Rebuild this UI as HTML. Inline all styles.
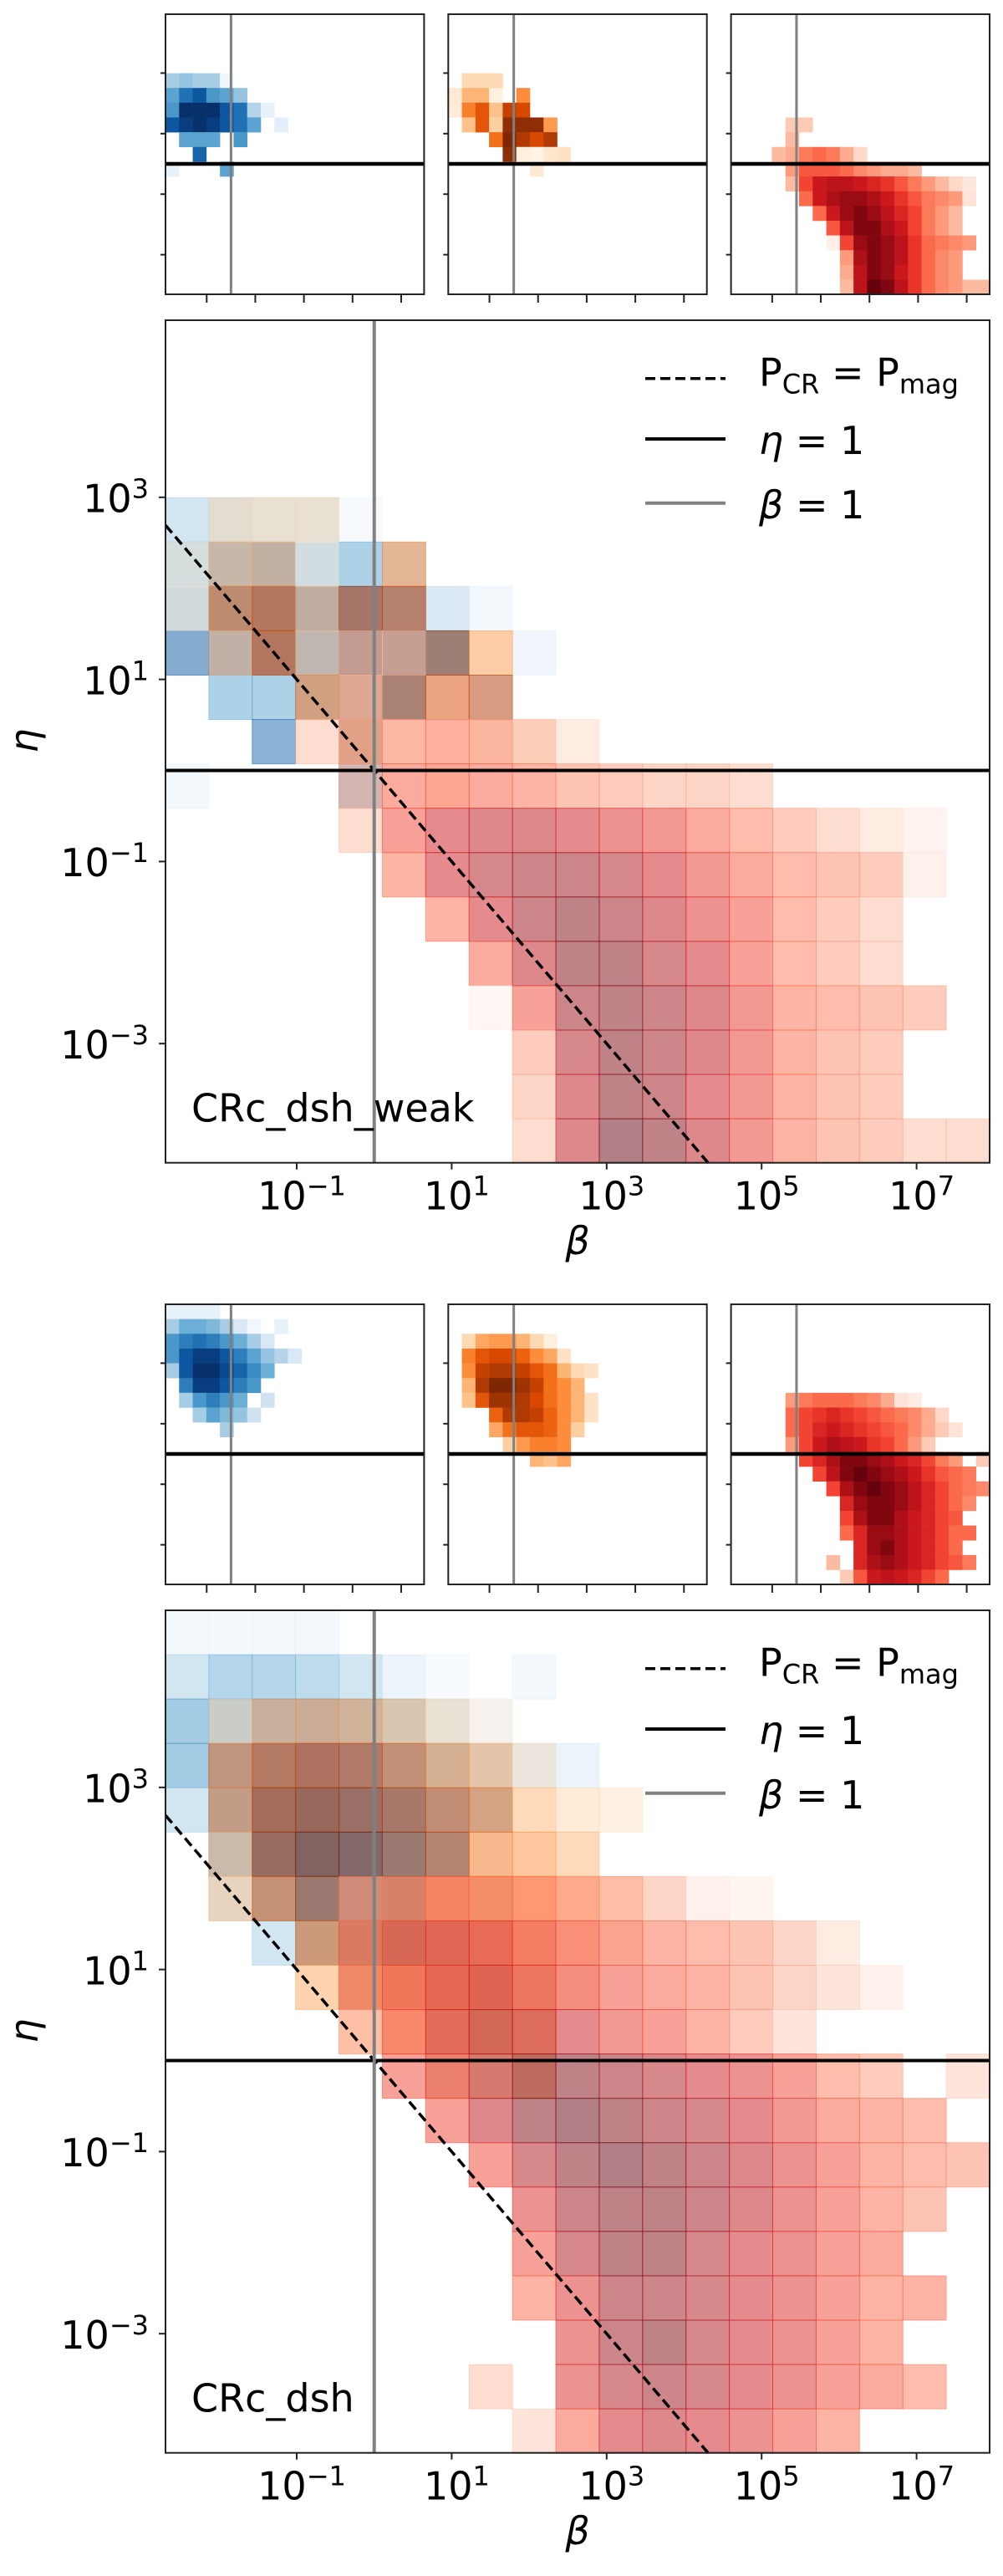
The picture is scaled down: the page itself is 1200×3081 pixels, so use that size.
<!DOCTYPE html>
<html><head><meta charset="utf-8">
<style>
html,body{margin:0;padding:0;background:#fff;}
svg{display:block;font-family:"DejaVu Sans","Liberation Sans",sans-serif;}
</style></head>
<body>
<svg id="fig" xmlns="http://www.w3.org/2000/svg" width="1200" height="3081" viewBox="0 0 1200 3081"></svg>
<script>
// ---- data: rows are [rowFromTop, startCol, values...] (normalised log counts) ----
const xTickExps = [-1, 1, 3, 5, 7];
const yTickExps = [3, 1, -1, -3];
const nBins = 19;
const xLogMin = -2.694, xLogMax = 7.943;
const yLogMax = 4.945, yLogMin = -4.313;
const panelLabels = ["CRc_dsh_weak", "CRc_dsh"];

const weakBlue = [
 [4,0,0.35,0.4,0.35,0.35,0.04],
 [5,0,0.55,0.75,0.85,0.6,0.55,0.4],
 [6,0,0.6,1.0,1.0,1.0,0.85,0.75,0.3,0.08],
 [7,0,0.85,0.95,1.0,0.95,0.85,0.75,0.55,0,0.1],
 [8,1,0.55,0.55,0.55,0,0.6],
 [9,2,0.8],
 [10,0,0.08,0,0,0,0.55]
];
const weakOrange = [
 [4,1,0.2,0.2,0.2],
 [5,0,0.1,0.35,0.35,0.05,0,0.5],
 [6,0,0.08,0.55,0.7,0.3,0.8,0.75],
 [7,1,0.3,0.7,0.25,0.95,0.95,0.95,0.45],
 [8,3,0.6,1.0,0.85,0.75,0.85],
 [9,4,0.95,0.05,0.02,0.12,0.15],
 [10,6,0.1]
];
const weakRed = [
 [7,4,0.2,0.2],
 [8,4,0.25],
 [9,3,0.25,0.3,0.45,0.5,0.45,0.3,0.15],
 [10,4,0.35,0.55,0.55,0.55,0.5,0.4,0.35,0.3,0.3,0.25],
 [11,4,0.25,0.6,0.75,0.8,0.8,0.75,0.7,0.65,0.55,0.45,0.35,0.25,0.15,0.08],
 [12,5,0.5,0.75,0.85,0.9,0.9,0.85,0.75,0.65,0.55,0.45,0.4,0.35,0.1],
 [13,6,0.5,0.75,0.9,0.95,0.9,0.8,0.7,0.6,0.45,0.35,0.25],
 [14,7,0.55,0.8,0.95,0.95,0.85,0.75,0.6,0.45,0.35,0.25],
 [15,7,0.03,0.6,0.9,0.95,0.9,0.8,0.65,0.5,0.45,0.4,0.35],
 [16,8,0.35,0.85,0.95,0.9,0.8,0.65,0.5,0.4,0.35],
 [17,8,0.3,0.8,0.95,0.9,0.75,0.65,0.5,0.4,0.35],
 [18,8,0.25,0.8,1.0,0.95,0.8,0.65,0.5,0.4,0.35,0.25,0.25]
];
const dshBlue = [
 [0,0,0.08,0.08,0.08,0.08],
 [1,0,0.35,0.5,0.5,0.45,0.35,0.15,0.03,0,0.08],
 [2,0,0.6,0.7,0.75,0.7,0.6,0.5,0.35,0.15],
 [3,0,0.6,0.85,0.95,0.95,0.85,0.7,0.55,0.4,0.3,0.15],
 [4,0,0.35,0.85,1.0,1.0,0.9,0.8,0.65,0.5],
 [5,1,0.7,0.95,0.95,0.85,0.7,0.6],
 [6,1,0.35,0.6,0.7,0.6,0.5,0,0.2],
 [7,2,0.35,0.55,0.45,0.4,0.2],
 [8,4,0.35]
];
const dshOrange = [
 [2,1,0.2,0.4,0.45,0.45,0.35,0.2,0.05],
 [3,1,0.55,0.7,0.75,0.75,0.65,0.5,0.4,0.15],
 [4,1,0.5,0.8,0.85,0.85,0.8,0.7,0.6,0.35,0.2,0.15],
 [5,1,0.35,0.85,1.0,1.0,0.9,0.8,0.6,0.5,0.35],
 [6,1,0.3,0.7,0.9,0.9,0.85,0.75,0.6,0.5,0.35,0.15],
 [7,3,0.65,0.85,0.85,0.8,0.65,0.5,0.35,0.15],
 [8,3,0.4,0.6,0.7,0.7,0.65,0.5,0.25],
 [9,4,0.25,0.45,0.55,0.55,0.5],
 [10,6,0.35,0.3,0.4]
];
const dshRed = [
 [6,4,0.35,0.45,0.5,0.5,0.5,0.45,0.4,0.3,0.1,0.05],
 [7,4,0.5,0.6,0.65,0.7,0.65,0.6,0.55,0.5,0.45,0.4,0.3,0.15],
 [8,4,0.5,0.6,0.7,0.75,0.7,0.65,0.6,0.55,0.5,0.4,0.3,0.2,0.1],
 [9,4,0.35,0.6,0.75,0.85,0.8,0.75,0.65,0.6,0.5,0.35,0.2],
 [10,5,0.6,0.7,0.85,0.95,0.95,0.9,0.85,0.75,0.7,0.6,0.45,0.35,0,0.2],
 [11,6,0.6,0.8,0.95,1.0,0.95,0.9,0.85,0.75,0.65,0.55,0.5,0.45],
 [12,7,0.6,0.85,0.95,1.0,0.95,0.9,0.8,0.7,0.6,0.5,0.45,0.4],
 [13,8,0.7,0.9,0.95,0.95,0.9,0.8,0.7,0.6,0.5,0.4],
 [14,8,0.6,0.85,0.95,0.95,0.85,0.75,0.7,0.6,0.55],
 [15,8,0.5,0.7,0.9,0.9,0.85,0.75,0.7,0.6,0.5,0.5],
 [16,9,0.7,0.9,0.95,0.85,0.75,0.7,0.6,0.5],
 [17,7,0.25,0,0.7,0.85,0.9,0.85,0.75,0.7,0.6,0.55,0.45],
 [18,8,0.2,0.55,0.75,0.8,0.75,0.7,0.6,0.5]
];

// ---- colormaps ----
const cmBlues = ["#f7fbff","#deebf7","#c6dbef","#9ecae1","#6baed6","#4292c6","#2171b5","#08519c","#08306b"];
const cmOranges = ["#fff5eb","#fee6ce","#fdd0a2","#fdae6b","#fd8d3c","#f16913","#d94801","#a63603","#7f2704"];
const cmReds = ["#fff5f0","#fee0d2","#fcbba1","#fc9272","#fb6a4a","#ef3b2c","#cb181d","#a50f15","#67000d"];
function hex2rgb(h){return [parseInt(h.substr(1,2),16),parseInt(h.substr(3,2),16),parseInt(h.substr(5,2),16)];}
function cmap(stops,v){
  v=Math.max(0,Math.min(1,v));
  const p=v*(stops.length-1), i=Math.min(Math.floor(p),stops.length-2), f=p-i;
  const a=hex2rgb(stops[i]), b=hex2rgb(stops[i+1]);
  return "rgb("+[0,1,2].map(k=>Math.round(a[k]+(b[k]-a[k])*f)).join(",")+")";
}

// ---- geometry / axis functions ----
const L=198, R=1184, T=383, B=1390.7;
const X_ZERO=447.7, X_DEC=92.7, Y_ZERO=921.5, Y_DEC=108.9;
function xPix(lb){return X_ZERO + X_DEC*lb;}
function yPix(le,off){return off + Y_ZERO - Y_DEC*le;}
const insetLefts=[198,536.3,874.6], insetW=309.4, insetTop=17, insetH=335;
function inX(i,px){return insetLefts[i] + (px-L)*insetW/(R-L);}
function inY(py,off){return off + insetTop + (py-off-T)*insetH/(B-T);}
const xBinW=(xLogMax-xLogMin)/nBins, yBinW=(yLogMax-yLogMin)/nBins;

const NS="http://www.w3.org/2000/svg";
const svg=document.getElementById("fig");
function el(tag,attrs,parent){const e=document.createElementNS(NS,tag);for(const k in attrs)e.setAttribute(k,attrs[k]);(parent||svg).appendChild(e);return e;}

function cellsOf(data,cb){
  data.forEach(row=>{
    const r=row[0], c0=row[1];
    for(let k=2;k<row.length;k++){
      const v=row[k]; if(v<=0) continue;
      const c=c0+k-2;
      const x1=xPix(xLogMin+c*xBinW), x2=xPix(xLogMin+(c+1)*xBinW);
      const yTopL=yLogMax-r*yBinW, yBotL=yLogMax-(r+1)*yBinW;
      cb(x1,x2,yTopL,yBotL,v,r,c);
    }
  });
}

function supLabel(parent,x,y,anchor,exp,name){
  const t=el("text",{x:x,y:y,"font-size":"46","text-anchor":anchor,fill:"#000"},parent);
  
  
  t.appendChild(document.createTextNode("10"));
  const s=el("tspan",{"font-size":"32",dy:"-17"},t);
  s.textContent=(exp<0?"\u2212":"")+Math.abs(exp);
  return t;
}

function drawPanel(pi,off,blue,orange,red){
  const g=el("g",{});
  
  
  const sets=[[blue,cmBlues,"blue"],[orange,cmOranges,"orange"],[red,cmReds,"red"]];
  // insets
  sets.forEach((s,i)=>{
    const ig=el("g",{},g);
    
    
    cellsOf(s[0],(x1,x2,yt,yb,v)=>{
      const X1=inX(i,x1), X2=inX(i,x2), Y1=inY(yPix(yt,off),off), Y2=inY(yPix(yb,off),off);
      const rc=el("rect",{x:X1,y:Y1,width:X2-X1+0.3,height:Y2-Y1+0.3,fill:cmap(s[1],v)},ig);
      
      
    });
    const top=off+insetTop, bot=off+insetTop+insetH, left=insetLefts[i], right=left+insetW;
    // beta=1 and eta=1
    const bx=inX(i,xPix(0));
    const vl=el("line",{x1:bx,x2:bx,y1:top,y2:bot,stroke:"#808080","stroke-width":3},ig);
    
    
    const ey=inY(yPix(0,off),off);
    const hl=el("line",{x1:left,x2:right,y1:ey,y2:ey,stroke:"#000","stroke-width":4.5},ig);
    
    
    const fr=el("rect",{x:left,y:top,width:insetW,height:insetH,fill:"none",stroke:"#222","stroke-width":2},ig);
    
    
    xTickExps.forEach(e=>{const x=inX(i,xPix(e));
      const tk=el("line",{x1:x,x2:x,y1:bot,y2:bot+10,stroke:"#222","stroke-width":2},ig);
      
      });
    yTickExps.forEach(e=>{const y=inY(yPix(e,off),off);
      const tk=el("line",{x1:left-6,x2:left,y1:y,y2:y,stroke:"#222","stroke-width":2},ig);
      
      });
  });
  // main plot
  const mg=el("g",{},g);
  
  
  sets.forEach(s=>{
    cellsOf(s[0],(x1,x2,yt,yb,v)=>{
      const Y1=yPix(yt,off), Y2=yPix(yb,off), col=cmap(s[1],v);
      const rc=el("rect",{x:x1,y:Y1,width:x2-x1,height:Y2-Y1,fill:col,"fill-opacity":0.5,stroke:col,"stroke-opacity":0.5,"stroke-width":1},mg);
      
      
    });
  });
  const top=off+T, bot=off+B;
  // dashed line eta = 1/beta
  const lbEnd=-(yLogMin);
  const dl=el("line",{x1:xPix(xLogMin),y1:yPix(-xLogMin,off),x2:xPix(lbEnd),y2:yPix(yLogMin,off),stroke:"#000","stroke-width":3.5,"stroke-dasharray":"12,6"},mg);
  
  
  const ey=yPix(0,off);
  const hl=el("line",{x1:L,x2:R,y1:ey,y2:ey,stroke:"#000","stroke-width":4},mg);
  
  
  const bx=xPix(0);
  const vl=el("line",{x1:bx,x2:bx,y1:top,y2:bot,stroke:"#808080","stroke-width":4},mg);
  
  
  const fr=el("rect",{x:L,y:top,width:R-L,height:B-T,fill:"none",stroke:"#222","stroke-width":2},mg);
  
  
  xTickExps.forEach(e=>{const x=xPix(e);
    const tk=el("line",{x1:x,x2:x,y1:bot,y2:bot+8,stroke:"#222","stroke-width":2},mg);
    
    
    supLabel(mg,x+6,off+1446.7,"middle",e,'x-tick-label');});
  yTickExps.forEach(e=>{const y=yPix(e,off);
    const tk=el("line",{x1:L-8,x2:L,y1:y,y2:y,stroke:"#222","stroke-width":2},mg);
    
    
    supLabel(mg,178,y+17.7,"end",e,'y-tick-label');});
  const xl=el("text",{x:(L+R)/2,y:off+1500,"font-size":"46","font-style":"italic","text-anchor":"middle"},mg);
  
  
  xl.textContent="\u03b2";
  const yl=el("text",{x:0,y:0,"font-size":"46","font-style":"italic","text-anchor":"middle",transform:"translate(45,"+(off+886)+") rotate(-90)"},mg);
  
  
  yl.textContent="\u03b7";
  const pl=el("text",{x:229,y:off+1341.7,"font-size":"46"},mg);
  
  
  pl.textContent=panelLabels[pi];
  // legend
  const lg=el("g",{},mg);
  
  
  const ly=[452.7,525,601.7];
  const l1=el("line",{x1:772,x2:868,y1:off+ly[0],y2:off+ly[0],stroke:"#000","stroke-width":3.5,"stroke-dasharray":"12,6"},lg);
  
  
  const t1=el("text",{x:908,y:off+461.7,"font-size":"46"},lg);
  
  
  t1.appendChild(document.createTextNode("P"));
  let s=el("tspan",{"font-size":"32",dy:"9"},t1); s.textContent="CR";
  s=el("tspan",{dy:"-9"},t1); s.textContent=" = P";
  s=el("tspan",{"font-size":"32",dy:"9"},t1); s.textContent="mag";
  const l2=el("line",{x1:772,x2:868,y1:off+ly[1],y2:off+ly[1],stroke:"#000","stroke-width":4},lg);
  
  
  const t2=el("text",{x:908,y:off+543,"font-size":"46"},lg);
  
  
  s=el("tspan",{"font-style":"italic"},t2); s.textContent="\u03b7";
  s=el("tspan",{},t2); s.textContent=" = 1";
  const l3=el("line",{x1:772,x2:868,y1:off+ly[2],y2:off+ly[2],stroke:"#808080","stroke-width":4},lg);
  
  
  const t3=el("text",{x:908,y:off+620,"font-size":"46"},lg);
  
  
  s=el("tspan",{"font-style":"italic"},t3); s.textContent="\u03b2";
  s=el("tspan",{},t3); s.textContent=" = 1";
}

drawPanel(0,0,weakBlue,weakOrange,weakRed);
drawPanel(1,1543,dshBlue,dshOrange,dshRed);
</script>
</body></html>
